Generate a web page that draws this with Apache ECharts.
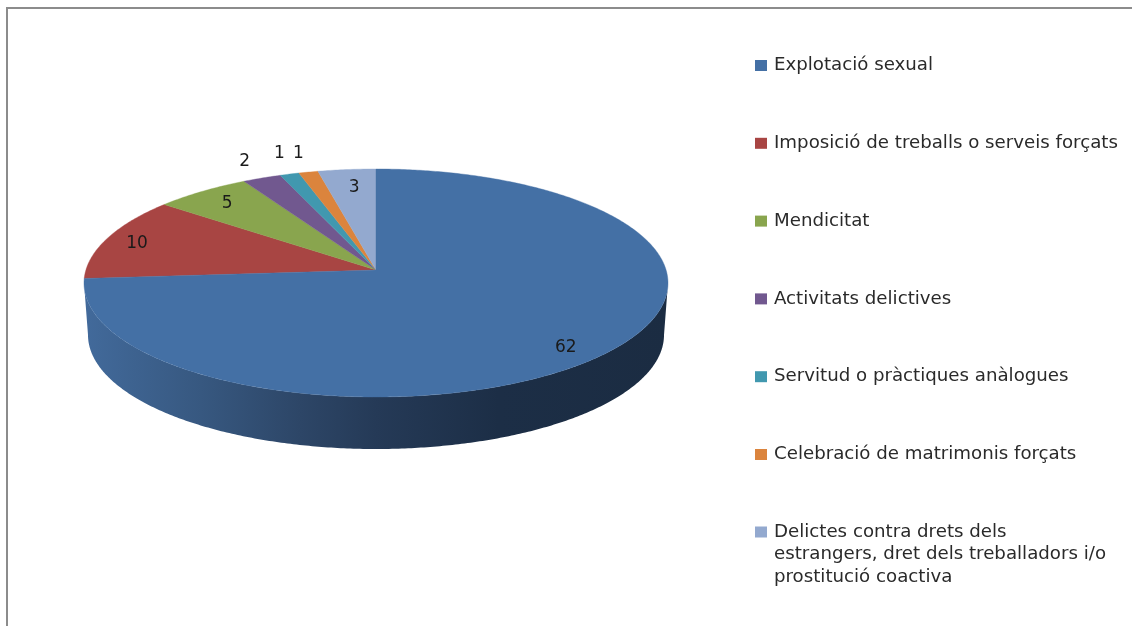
<!DOCTYPE html>
<html>
<head>
<meta charset="utf-8">
<style>html,body{margin:0;padding:0;background:#fff}#c{width:1132px;height:626px}</style>
<script src="https://cdn.jsdelivr.net/npm/echarts@6/dist/echarts.min.js"></script>
</head>
<body>
<div id="c"></div>
<script>
const categories = [
  'Explotació sexual',
  'Imposició de treballs o serveis forçats',
  'Mendicitat',
  'Activitats delictives',
  'Servitud o pràctiques anàlogues',
  'Celebració de matrimonis forçats',
  'Delictes contra drets dels\nestrangers, dret dels treballadors i/o\nprostitució coactiva'
];
const values = [62, 10, 5, 2, 1, 1, 3];
const colors = ['#4470A5', '#A84543', '#89A54E', '#71588F', '#4198AF', '#DB843D', '#93A9CF'];

// Layout of the tilted disc
const CX = 376, CY = 283, RX = 292, RY = 114, DEPTH = 52, BOTTOM_SHRINK = 288 / 292;
const K = 0.114; // perspective: the pie centre appears above the ellipse centre
const labelRadius = [0.9, 0.88, 0.85, 1.22, 1.25, 1.25, 0.8];
const labelNudgeX = [-16, -2, 1, 5, 9, 5, 2];
const labelNudgeY = [4, 2, 1, 1, 1, 3, 0];

const FONT = 'DejaVu Sans';
const total = values.reduce((a, b) => a + b, 0);
const TAU = Math.PI * 2;

function project(theta, t) {
  const u = Math.sin(theta) * t, v = -Math.cos(theta) * t;
  const den = 1 - K * v;
  return [
    CX + RX * Math.sqrt(1 - K * K) * u / den,
    CY + (RY * v - K * RY) / den
  ];
}
function arc(a, b) {
  const n = Math.max(2, Math.ceil((b - a) / 0.01));
  const out = [];
  for (let i = 0; i <= n; i++) out.push(a + (b - a) * i / n);
  return out;
}
const frontStart = Math.acos(-K);          // right tangent of the ellipse
const frontEnd = TAU - Math.acos(-K);      // left tangent of the ellipse

const sideFill = {
  type: 'linear', x: 0, y: 0, x2: 1, y2: 0,
  colorStops: [
    { offset: 0, color: '#426a9b' },
    { offset: 0.2, color: '#375880' },
    { offset: 0.37, color: '#2d4667' },
    { offset: 0.5, color: '#253a57' },
    { offset: 0.71, color: '#1c2e46' },
    { offset: 1, color: '#1b2c42' }
  ]
};

function renderSlice(params, api) {
  const i = params.seriesIndex;
  const a = api.value(0) / total * TAU;
  const b = api.value(1) / total * TAU;
  const children = [];

  const sa = Math.max(a, frontStart), sb = Math.min(b, frontEnd);
  if (sb > sa) {
    const angles = arc(sa, sb);
    const top = angles.map(th => project(th, 1));
    const bottom = angles.map(th => {
      const p = project(th, 1);
      return [CX + (p[0] - CX) * BOTTOM_SHRINK, p[1] + DEPTH];
    }).reverse();
    children.push({
      type: 'polygon', z2: 1,
      shape: { points: top.concat(bottom) },
      style: { fill: sideFill }
    });
  }
  const rim = arc(a, b).map(th => project(th, 1));
  children.push({
    type: 'polygon', z2: 2,
    shape: { points: [project(0, 0)].concat(rim) },
    style: { fill: colors[i], stroke: colors[i], lineWidth: 0.4 }
  });
  const mid = (a + b) / 2;
  const lp = project(mid, labelRadius[i]);
  children.push({
    type: 'text', z2: 10,
    style: {
      x: lp[0] + labelNudgeX[i], y: lp[1] + labelNudgeY[i],
      text: String(api.value(2)),
      fill: '#1a1a1a', font: '17px "' + FONT + '"',
      align: 'center', verticalAlign: 'middle'
    }
  });
  return { type: 'group', children };
}

let cum = 0;
const series = categories.map((name, i) => {
  const start = cum;
  cum += values[i];
  return {
    type: 'custom',
    name,
    coordinateSystem: 'none',
    renderItem: renderSlice,
    itemStyle: { color: colors[i] },
    z: i === 0 ? 3 : 2,
    data: [[start, cum, values[i]]],
    silent: true
  };
});

const legendBase = {
  orient: 'vertical',
  left: 755,
  height: 800,
  padding: 0,
  itemWidth: 12,
  itemHeight: 11,
  itemGap: 54.8,
  icon: 'rect',
  selectedMode: false
};
const legendText = { fontFamily: FONT, fontSize: 18.2, color: '#2a2a2a', padding: [0, 0, 0, 2] };

const chart = echarts.init(document.getElementById('c'), null, { renderer: 'canvas' });
chart.setOption({
  animation: false,
  backgroundColor: '#fff',
  color: colors,
  tooltip: { show: false },
  legend: [
    Object.assign({}, legendBase, {
      top: 54,
      textStyle: Object.assign({}, legendText, { lineHeight: 23 }),
      data: categories.slice(0, 6)
    }),
    // The last entry is three lines long with its swatch beside the first line:
    // two empty lines above the text put that first line at the swatch's height.
    Object.assign({}, legendBase, {
      top: 475.75,
      textStyle: Object.assign({}, legendText, { lineHeight: 22.5 }),
      formatter: name => '\n\n' + name,
      data: categories.slice(6)
    })
  ],
  graphic: [
    { type: 'rect', shape: { x: 6, y: 7, width: 2, height: 619 }, style: { fill: '#8c8c8c' }, silent: true },
    { type: 'rect', shape: { x: 6, y: 7, width: 1126, height: 2 }, style: { fill: '#8c8c8c' }, silent: true }
  ],
  series
});
</script>
</body>
</html>
